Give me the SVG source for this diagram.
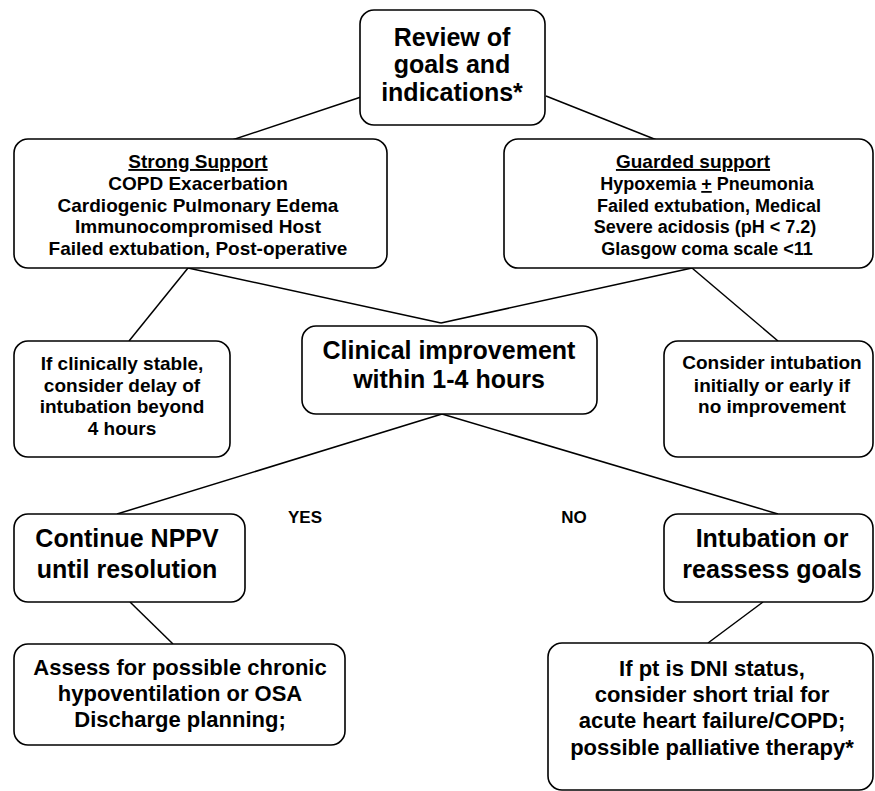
<svg xmlns="http://www.w3.org/2000/svg" width="875" height="791" viewBox="0 0 875 791">
<style>
.box{fill:#fff;stroke:#000;stroke-width:1.6}
.ln{stroke:#000;stroke-width:1.5;fill:none}
text{font-family:"Liberation Sans",Arial,sans-serif;font-weight:bold;fill:#000;text-anchor:middle}
.t25{font-size:25px}
.t19{font-size:19px}
.t18{font-size:18px}
.t22{font-size:22px}
.t17{font-size:17px}
.u{text-decoration:underline}
</style>
<rect width="875" height="791" fill="#fff"/>
<g id="connectors">
<line class="ln" x1="361" y1="97" x2="187" y2="155"/>
<line class="ln" x1="546" y1="96" x2="692" y2="154"/>
<line class="ln" x1="188" y1="268" x2="129" y2="341"/>
<line class="ln" x1="188" y1="268" x2="441" y2="323"/>
<line class="ln" x1="692" y1="268" x2="441" y2="323"/>
<line class="ln" x1="692" y1="268" x2="778" y2="341"/>
<line class="ln" x1="442" y1="414" x2="117" y2="514"/>
<line class="ln" x1="442" y1="414" x2="778" y2="514"/>
<line class="ln" x1="130" y1="602" x2="173" y2="644"/>
<line class="ln" x1="763" y1="602" x2="708" y2="643"/>
</g>
<g id="review">
<rect class="box" x="360" y="10" width="185" height="115" rx="14"/>
<text class="t25" x="452" y="46">Review of</text>
<text class="t25" x="452" y="73">goals and</text>
<text class="t25" x="452" y="101">indications*</text>
</g>
<g id="strong">
<rect class="box" x="14" y="139" width="373" height="129" rx="14"/>
<text class="t19 u" x="198" y="168">Strong Support</text>
<text class="t19" x="198" y="190">COPD Exacerbation</text>
<text class="t19" x="198" y="212">Cardiogenic Pulmonary Edema</text>
<text class="t19" x="198" y="233">Immunocompromised Host</text>
<text class="t19" x="198" y="255">Failed extubation, Post-operative</text>
</g>
<g id="guarded">
<rect class="box" x="504" y="139" width="369" height="129" rx="14"/>
<text class="t19 u" x="693" y="168">Guarded support</text>
<text class="t18" x="707" y="190">Hypoxemia <tspan class="u">+</tspan> Pneumonia</text>
<text class="t18" x="709" y="212">Failed extubation, Medical</text>
<text class="t18" x="705" y="233">Severe acidosis (pH &lt; 7.2)</text>
<text class="t18" x="707" y="255">Glasgow coma scale &lt;11</text>
</g>
<g id="delay">
<rect class="box" x="14" y="341" width="216" height="116" rx="14"/>
<text class="t19" x="122" y="370">If clinically stable,</text>
<text class="t19" x="122" y="392">consider delay of</text>
<text class="t19" x="122" y="413">intubation beyond</text>
<text class="t19" x="122" y="435">4 hours</text>
</g>
<g id="clinical">
<rect class="box" x="302" y="326" width="295" height="88" rx="14"/>
<text class="t25" x="449" y="359">Clinical improvement</text>
<text class="t25" x="449" y="388">within 1-4 hours</text>
</g>
<g id="consider">
<rect class="box" x="664" y="341" width="209" height="116" rx="14"/>
<text class="t19" x="772" y="369">Consider intubation</text>
<text class="t19" x="772" y="392">initially or early if</text>
<text class="t19" x="772" y="413">no improvement</text>
</g>
<g id="labels">
<text class="t17" x="305" y="523">YES</text>
<text class="t17" x="574" y="523">NO</text>
</g>
<g id="continue">
<rect class="box" x="14" y="514" width="231" height="88" rx="14"/>
<text class="t25" x="127" y="547">Continue NPPV</text>
<text class="t25" x="127" y="578">until resolution</text>
</g>
<g id="intubation">
<rect class="box" x="664" y="514" width="209" height="88" rx="14"/>
<text class="t25" x="772" y="547">Intubation or</text>
<text class="t25" x="772" y="578">reassess goals</text>
</g>
<g id="assess">
<rect class="box" x="14" y="644" width="331" height="101" rx="14"/>
<text class="t22" x="180" y="675">Assess for possible chronic</text>
<text class="t22" x="180" y="701">hypoventilation or OSA</text>
<text class="t22" x="180" y="727">Discharge planning;</text>
</g>
<g id="dni">
<rect class="box" x="548" y="643" width="325" height="147" rx="14"/>
<text class="t22" x="712" y="676">If pt is DNI status,</text>
<text class="t22" x="712" y="702">consider short trial for</text>
<text class="t22" x="712" y="728">acute heart failure/COPD;</text>
<text class="t22" x="712" y="755">possible palliative therapy*</text>
</g>
</svg>
